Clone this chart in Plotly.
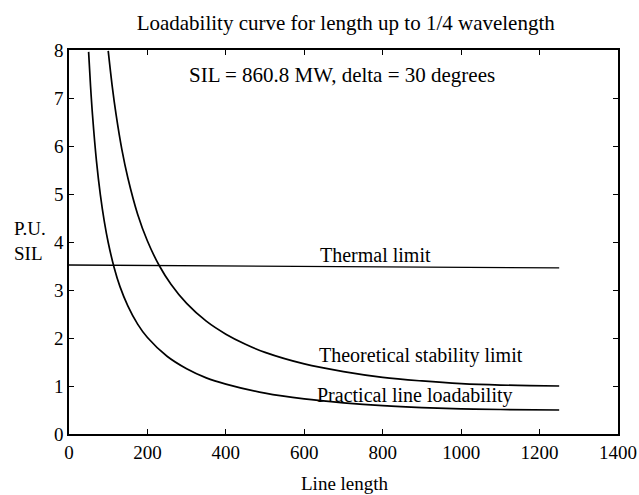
import plotly.graph_objects as go

# Line length (km) and P.U. SIL values
theo_len = [100, 110, 120, 135, 150, 175, 200, 230, 260, 300, 350, 400, 450, 500,
            600, 700, 800, 900, 1000, 1100, 1250]
theo_pu = [7.98, 7.26, 6.66, 5.92, 5.34, 4.58, 4.02, 3.51, 3.12, 2.72, 2.35, 2.08,
           1.87, 1.70, 1.46, 1.30, 1.18, 1.105, 1.05, 1.02, 1.00]

prac_len = [50, 55, 60, 70, 80, 90, 100, 115, 130, 150, 175, 200, 250, 300, 350,
            400, 500, 600, 700, 800, 900, 1000, 1100, 1250]
prac_pu = [7.96, 7.24, 6.64, 5.69, 4.98, 4.43, 3.99, 3.47, 3.07, 2.67, 2.29, 2.01,
           1.62, 1.36, 1.17, 1.04, 0.85, 0.73, 0.65, 0.59, 0.55, 0.525, 0.51, 0.50]

therm_len = [0, 1250]
therm_pu = [3.52, 3.46]

x_ticks = [0, 200, 400, 600, 800, 1000, 1200, 1400]
y_ticks = [0, 1, 2, 3, 4, 5, 6, 7, 8]

FONT = "Liberation Serif"
line = dict(color="black", width=1.7)

fig = go.Figure()
fig.add_trace(go.Scatter(x=theo_len, y=theo_pu, mode="lines", line=dict(line, shape="spline"),
                         showlegend=False, hoverinfo="skip"))
fig.add_trace(go.Scatter(x=prac_len, y=prac_pu, mode="lines", line=dict(line, shape="spline"),
                         showlegend=False, hoverinfo="skip"))
fig.add_trace(go.Scatter(x=therm_len, y=therm_pu, mode="lines", line=dict(color="black", width=1.4),
                         showlegend=False, hoverinfo="skip"))

axis_common = dict(showgrid=False, zeroline=False, showline=True, linecolor="black",
                   linewidth=1.6, mirror="allticks", ticks="inside", ticklen=5,
                   tickcolor="black", automargin=False,
                   tickfont=dict(family=FONT, size=19, color="black"))

fig.update_xaxes(range=[0, 1400], tickvals=x_ticks, **axis_common)
fig.update_yaxes(range=[0, 8], tickvals=y_ticks, **axis_common)

labels = [
    (635, 3.72, "Thermal limit"),
    (632, 1.64, "Theoretical stability limit"),
    (627, 0.80, "Practical line loadability"),
]
for lx, ly, txt in labels:
    fig.add_annotation(x=lx, y=ly, text=txt, showarrow=False, xanchor="left",
                       font=dict(family=FONT, size=20, color="black"))

fig.add_annotation(x=697, y=7.48, text="SIL = 860.8 MW, delta = 30 degrees", showarrow=False,
                   xanchor="center", font=dict(family=FONT, size=21, color="black"))

fig.add_annotation(xref="paper", yref="paper", x=-0.104, y=0.503,
                   text="P.U.<br>SIL", showarrow=False, xanchor="left", yanchor="middle",
                   align="left", font=dict(family=FONT, size=19, color="black"))

fig.add_annotation(xref="paper", yref="paper", x=0.503, y=-0.128,
                   text="Line length", showarrow=False, xanchor="center", yanchor="middle",
                   font=dict(family=FONT, size=19, color="black"))

fig.update_layout(
    width=639, height=495,
    margin=dict(l=69, r=21, t=50, b=61, autoexpand=False),
    plot_bgcolor="white", paper_bgcolor="white",
    title=dict(text="Loadability curve for length up to 1/4 wavelength",
               font=dict(family=FONT, size=21, color="black"),
               x=0.541, xanchor="center", y=0.955, yanchor="middle"),
)

fig.write_html("out.html", config={"displayModeBar": False},
               post_script="document.body.style.margin='0';document.body.style.overflow='hidden';")
